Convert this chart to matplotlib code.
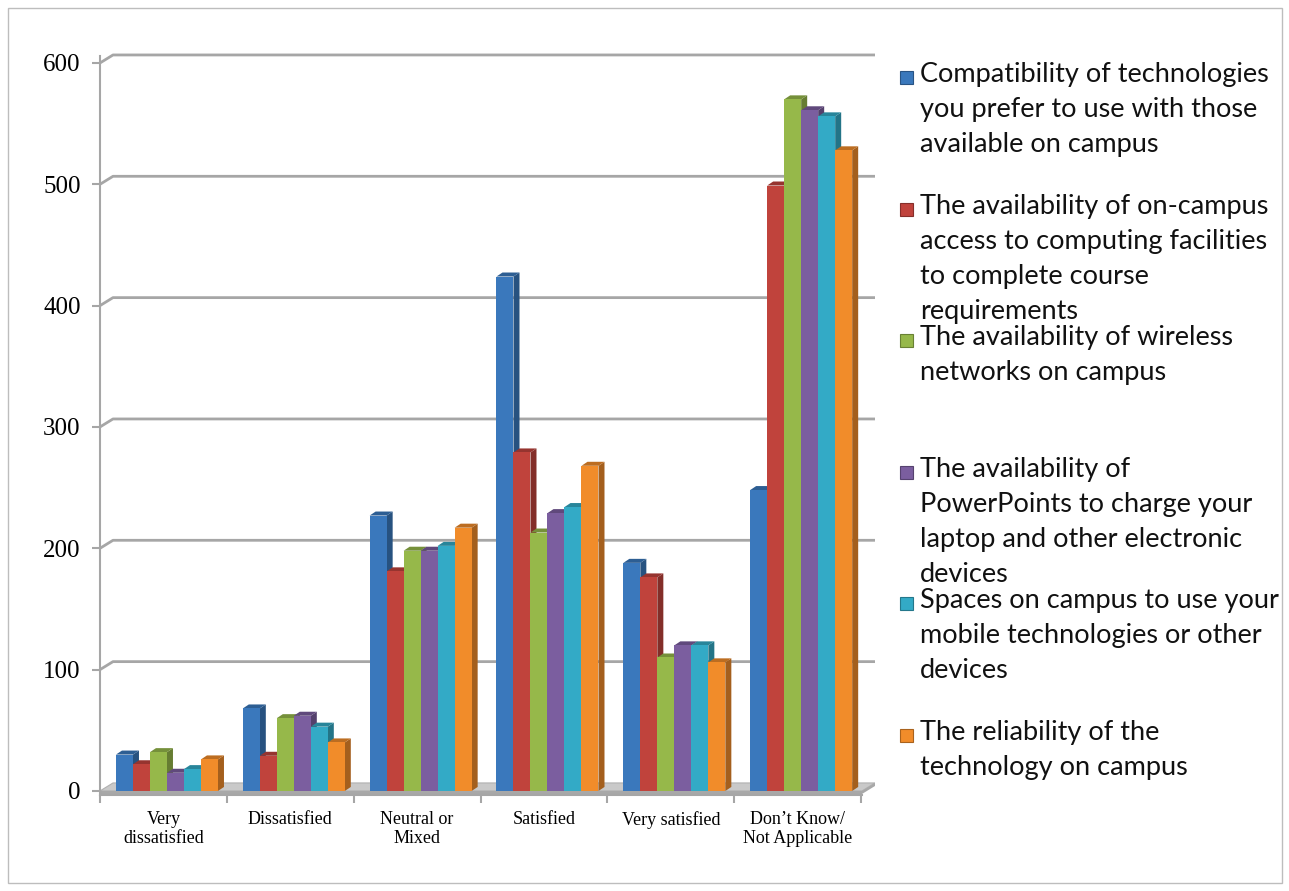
import numpy as np
import matplotlib.pyplot as plt
from matplotlib.patches import Polygon, Rectangle
import matplotlib.colors as mcolors

# --- data ---
categories = ['Very\ndissatisfied', 'Dissatisfied', 'Neutral or\nMixed',
              'Satisfied', 'Very satisfied', 'Don\u2019t Know/\nNot Applicable']
series_labels = [
    'Compatibility of technologies\nyou prefer to use with those\navailable on campus',
    'The availability of on-campus\naccess to computing facilities\nto complete course\nrequirements',
    'The availability of wireless\nnetworks on campus',
    'The availability of\nPowerPoints to charge your\nlaptop and other electronic\ndevices',
    'Spaces on campus to use your\nmobile technologies or other\ndevices',
    'The reliability of the\ntechnology on campus',
]
compat = [30, 68, 227, 424, 188, 248]
oncampus = [22, 29, 181, 279, 176, 499]
wireless = [32, 60, 198, 213, 110, 570]
powerpoints = [15, 62, 198, 229, 120, 561]
spaces = [18, 53, 202, 234, 120, 556]
reliability = [26, 40, 217, 268, 106, 528]
values = [compat, oncampus, wireless, powerpoints, spaces, reliability]
yticks = [0, 100, 200, 300, 400, 500, 600]

colors = ['#3A78BC', '#C0433C', '#96B84A', '#7B5E9F', '#33AAC6', '#F18C2A']

W, H = 1289, 891
fig = plt.figure(figsize=(W / 100, H / 100), dpi=100)

# axes placement in pixels
left_px, right_px = 100, 875
bot_px, top_px = 794.6, 48.4
ax = fig.add_axes([left_px / W, 1 - bot_px / H, (right_px - left_px) / W, (bot_px - top_px) / H])
x0, x1 = -0.528, 5.582
ax.set_xlim(x0, x1)
ax.set_ylim(-3, 612)
ax.patch.set_alpha(0)

# wall depth (back wall offset) and bar depth
px_x = (x1 - x0) / (right_px - left_px)   # data units per pixel in x
px_y = 615 / (bot_px - top_px)            # data units per pixel in y
wall_dx, wall_dy = 13 * px_x, 8 * px_y
bar_dx, bar_dy = 6 * px_x, 4 * px_y
w = 17 * px_x

# floor
ax.add_patch(Polygon([(x0, 0), (x0 + wall_dx, wall_dy), (x1, wall_dy), (x1 - wall_dx, 0)],
                     closed=True, facecolor='#C9C9C9', edgecolor='#B0B0B0', lw=0.8, zorder=1))
ax.add_patch(Polygon([(x0, 0), (x1 - wall_dx, 0), (x1, wall_dy), (x1, wall_dy - 2.5),
                      (x1 - wall_dx, -2.5), (x0, -2.5)],
                     closed=True, facecolor='#A8A8A8', edgecolor='none', zorder=1))

# gridlines on back wall
for t in yticks[1:]:
    ax.plot([x0, x0 + wall_dx, x1], [t, t + wall_dy, t + wall_dy],
            color='#A6A6A6', lw=2, zorder=0.5, solid_capstyle='butt')

# bars with pseudo 3D faces
x = np.arange(len(categories))
for i, (vals, c) in enumerate(zip(values, colors)):
    xs = x + (i - 2.5) * w
    rgb = np.array(mcolors.to_rgb(c))
    dark = rgb * 0.68
    ax.bar(xs, vals, width=w, color=c, edgecolor='none', zorder=3)
    for xc, v in zip(xs, vals):
        r = xc + w / 2
        l = xc - w / 2
        ax.add_patch(Polygon([(r, 0), (r + bar_dx, bar_dy), (r + bar_dx, v + bar_dy), (r, v)],
                             closed=True, facecolor=dark, edgecolor='none', zorder=2.9))
        ax.add_patch(Polygon([(l, v), (l + bar_dx, v + bar_dy), (r + bar_dx, v + bar_dy), (r, v)],
                             closed=True, facecolor=rgb * 0.78, edgecolor='none', zorder=2.9))

# axes styling
for s in ['top', 'right']:
    ax.spines[s].set_visible(False)
ax.spines['left'].set_color('#A6A6A6')
ax.spines['left'].set_linewidth(1.5)
ax.spines['left'].set_bounds(-3, 606)
ax.spines['bottom'].set_color('#A6A6A6')
ax.spines['bottom'].set_linewidth(1.5)
ax.spines['bottom'].set_bounds(x0, x1 - wall_dx)

ax.set_yticks(yticks)
ax.set_yticklabels([str(t) for t in yticks], fontfamily='Liberation Serif', fontsize=18)
ax.tick_params(axis='y', length=6, color='#A6A6A6', width=1.5, pad=8)

# category axis sits on the front plane, slightly left of the bar groups
ax.set_xticks(x - 0.028)
ax.set_xticklabels(categories, fontfamily='Liberation Serif', fontsize=13, linespacing=1.15, va='top')
ax.tick_params(axis='x', length=0, pad=12)
ax.set_xticks(np.arange(len(categories) + 1) + x0, minor=True)
ax.tick_params(axis='x', which='minor', length=6, color='#A6A6A6', width=1.5)

# legend built by hand (evenly spaced entries)
leg_top = 77
step = 131.6
for i, (lab, c) in enumerate(zip(series_labels, colors)):
    yc = leg_top + i * step
    fig.add_artist(Rectangle((900 / W, 1 - (yc + 7) / H), 13 / W, 13 / H,
                             transform=fig.transFigure, facecolor=c,
                             edgecolor=np.array(mcolors.to_rgb(c)) * 0.7, lw=0.8))
    fig.text(920 / W, 1 - (yc - 15) / H, lab, fontfamily='Lato', fontsize=19.5,
             va='top', ha='left', linespacing=1.5, color='#111111',
             transform=fig.transFigure)

# outer border
fig.add_artist(Rectangle((8 / W, 8 / H), 1274 / W, 875 / H, transform=fig.transFigure,
                         fill=False, edgecolor='#BDBDBD', lw=1))

fig.savefig('out.png', dpi=100)
